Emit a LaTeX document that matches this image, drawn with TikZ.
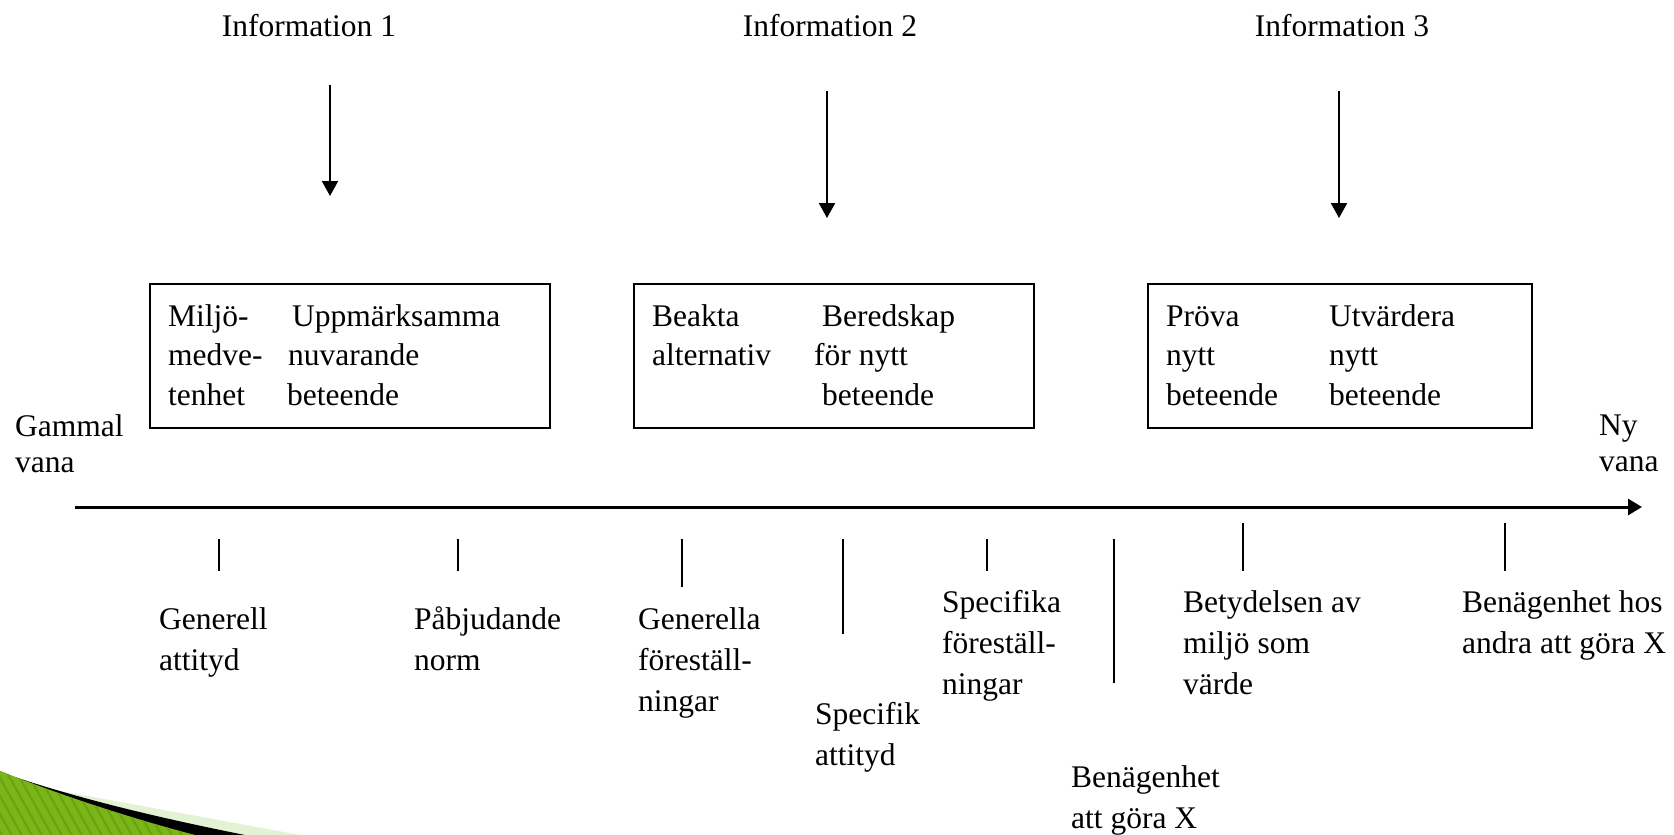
\documentclass[tikz,border=0pt]{standalone}
\usepackage{fontspec}
\setmainfont{Liberation Serif}
\usetikzlibrary{arrows.meta}
\newcommand\mlines[1]{\begin{tabular}[t]{@{}l@{}}#1\end{tabular}}
\definecolor{leafgreen}{RGB}{122,182,24}
\definecolor{leafstripe}{RGB}{106,162,18}
\definecolor{palegreen}{RGB}{228,242,212}
\begin{document}
\begin{tikzpicture}[x=1pt,y=-1pt,
  lbl/.style={anchor=base west,inner sep=0pt,font=\fontsize{31.5}{41}\selectfont},
  boxtext/.style={anchor=base west,inner sep=0pt,font=\fontsize{31.5}{39.5}\selectfont},
  endtext/.style={anchor=base west,inner sep=0pt,font=\fontsize{31.5}{36.5}\selectfont},
  infotext/.style={anchor=base,inner sep=0pt,font=\fontsize{31.5}{36}\selectfont},
  stagebox/.style={draw,line width=2pt,inner sep=0pt,anchor=north west,minimum height=144pt},
  infoarrow/.style={line width=2pt,-{Triangle[length=15pt,width=16pt]}},
  timeline/.style={line width=3pt,-{Triangle[length=14pt,width=16pt]}},
  marker/.style={line width=2pt}]
\useasboundingbox (0,0) rectangle (1674,835);

% decorative swoosh in the lower left corner
\fill[palegreen] (50,789) -- (300,835) -- (245,835)
  .. controls (170,820) and (100,803) .. (50,789) -- cycle;
\fill[black] (12,776) .. controls (80,799) and (160,818) .. (245,835)
  -- (0,835) -- (0,771) -- cycle;
\begin{scope}
  \clip (0,771) .. controls (60,795) and (130,818) .. (195,835) -- (0,835) -- cycle;
  \fill[leafgreen] (0,760) rectangle (250,835);
  \foreach \i in {-120,-110,...,260}
    \draw[leafstripe,line width=2pt] (\i,760) -- ++(50,90);
\end{scope}

% information inputs
\node[infotext] (info1) at (309,36) {Information 1};
\node[infotext] (info2) at (830,36) {Information 2};
\node[infotext] (info3) at (1342,36) {Information 3};
\coordinate (i1s) at (330,85);  \coordinate (i1e) at (330,196);
\coordinate (i2s) at (827,91);  \coordinate (i2e) at (827,218);
\coordinate (i3s) at (1339,91); \coordinate (i3e) at (1339,218);
\draw[infoarrow] (i1s) -- (i1e);
\draw[infoarrow] (i2s) -- (i2e);
\draw[infoarrow] (i3s) -- (i3e);

% stage boxes
\node[stagebox,minimum width=400pt] (box1) at (149,283) {};
\node[stagebox,minimum width=400pt] (box2) at (633,283) {};
\node[stagebox,minimum width=384pt] (box3) at (1147,283) {};

\node[boxtext] (b1a) at (168,326) {\mlines{Miljö-\\medve-\\tenhet}};
\node[boxtext] (b1b) at (287,326) {\mlines{\hspace*{5pt}Uppmärksamma\\\hspace*{1pt}nuvarande\\beteende}};
\node[boxtext] (b2a) at (652,326) {\mlines{Beakta\\alternativ}};
\node[boxtext] (b2b) at (814,326) {\mlines{\hspace*{8pt}Beredskap\\för nytt\\\hspace*{8pt}beteende}};
\node[boxtext] (b3a) at (1166,326) {\mlines{Pröva\\nytt\\beteende}};
\node[boxtext] (b3b) at (1329,326) {\mlines{Utvärdera\\nytt\\beteende}};

% time line from old to new habit
\node[endtext] (old) at (15,436) {\mlines{Gammal\\vana}};
\node[endtext] (new) at (1599,435) {\mlines{Ny\\vana}};
\coordinate (ax0) at (75,507);
\coordinate (ax1) at (1642,507);
\draw[timeline] (ax0) -- (ax1);

% markers below the time line
\coordinate (m1a) at (219,539);  \coordinate (m1b) at (219,571);
\coordinate (m2a) at (458,539);  \coordinate (m2b) at (458,571);
\coordinate (m3a) at (682,539);  \coordinate (m3b) at (682,587);
\coordinate (m4a) at (843,539);  \coordinate (m4b) at (843,634);
\coordinate (m5a) at (987,539);  \coordinate (m5b) at (987,571);
\coordinate (m6a) at (1114,539); \coordinate (m6b) at (1114,683);
\coordinate (m7a) at (1243,523); \coordinate (m7b) at (1243,571);
\coordinate (m8a) at (1505,523); \coordinate (m8b) at (1505,571);
\foreach \m in {1,...,8} \draw[marker] (m\m a) -- (m\m b);

\node[lbl] (f1) at (159,629)  {\mlines{Generell\\attityd}};
\node[lbl] (f2) at (414,629)  {\mlines{Påbjudande\\norm}};
\node[lbl] (f3) at (638,629)  {\mlines{Generella\\föreställ-\\ningar}};
\node[lbl] (f4) at (815,724)  {\mlines{Specifik\\attityd}};
\node[lbl] (f5) at (942,612)  {\mlines{Specifika\\föreställ-\\ningar}};
\node[lbl] (f6) at (1071,787) {\mlines{Benägenhet\\att göra X}};
\node[lbl] (f7) at (1183,612) {\mlines{Betydelsen av\\miljö som\\värde}};
\node[lbl] (f8) at (1462,612) {\mlines{Benägenhet hos\\andra att göra X}};
\end{tikzpicture}
\end{document}
